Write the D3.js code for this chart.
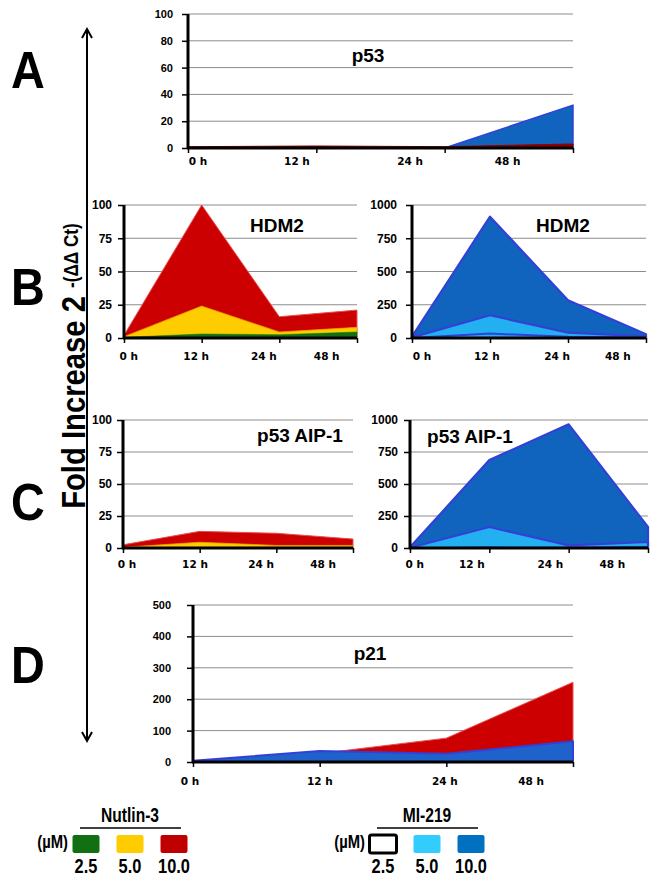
<!DOCTYPE html>
<html>
<head>
<meta charset="utf-8">
<script src="https://cdn.jsdelivr.net/npm/d3@7"></script>
<style>
  html, body { margin: 0; padding: 0; background: #fff; }
  svg { display: block; }
</style>
</head>
<body>
<svg id="chart" width="664" height="889"></svg>
<script>
// ---------------- DATA ----------------
const categories = ["0 h", "12 h", "24 h", "48 h"];

const ticksA = [0, 20, 40, 60, 80, 100];
const ticks100 = [0, 25, 50, 75, 100];
const ticks1000 = [0, 250, 500, 750, 1000];
const ticksD = [0, 100, 200, 300, 400, 500];

// A: p53
const p53Nutlin10 = [1, 1.5, 1, 3];
const p53MI10 = [0, 0, 0, 32];

// B: HDM2
const hdm2Nutlin25 = [0.5, 3, 2.5, 4.5];
const hdm2Nutlin50 = [1, 24, 4.5, 8];
const hdm2Nutlin100 = [2, 100, 16, 21];
const hdm2MI25 = [0, 33, 10, 5];
const hdm2MI50 = [5, 171, 40, 12];
const hdm2MI100 = [10, 912, 284, 28];

// C: p53 AIP-1
const aipNutlin25 = [0.2, 0.5, 0.5, 0.5];
const aipNutlin50 = [0.5, 4.5, 2, 2];
const aipNutlin100 = [2.5, 13, 11.5, 7];
const aipMI25 = [0, 5, 3, 10];
const aipMI50 = [2, 164, 21, 47];
const aipMI100 = [5, 687, 966, 164];

// D: p21
const p21Nutlin100 = [2, 27, 76, 254];
const p21MI100 = [4, 35, 26, 66];

const legendConc = ["2.5", "5.0", "10.0"];

// ---------------- STYLES ----------------
const C = {
  green: "#127012", yellow: "#ffcc00", red: "#cc0000", redEdge: "#e85050",
  lblue: "#22b0f0", dblue: "#1064be", blueEdge: "#3340d8",
  pblue: "#1f62cc"
};

const svg = d3.select("#chart");

const panels = [
  { left: 188, right: 573, top: 14, bottom: 148, max: 100, ticks: ticksA, tickGap: 15, tickFont: 11,
    title: "p53", tx: 368, ty: 62, labelY: 165, labelFrac: [0.026, 0.283, 0.577, 0.83],
    series: [
      { v: p53MI10, fill: C.dblue, stroke: C.blueEdge, sw: 1.5 },
      { v: p53Nutlin10, fill: "#8b0000", stroke: "#8b0000", sw: 1 }
    ] },
  { left: 124, right: 357, top: 205, bottom: 338, max: 100, ticks: ticks100, tickGap: 12, tickFont: 12,
    title: "HDM2", tx: 277, ty: 232, labelY: 360, labelFrac: [0.02, 0.31, 0.6, 0.87],
    series: [
      { v: hdm2Nutlin100, fill: C.red, stroke: C.redEdge, sw: 1 },
      { v: hdm2Nutlin50, fill: C.yellow, stroke: "#e8a000", sw: 0.8 },
      { v: hdm2Nutlin25, fill: C.green, stroke: C.green, sw: 0.5 }
    ] },
  { left: 412, right: 646, top: 205, bottom: 338, max: 1000, ticks: ticks1000, tickGap: 15, tickFont: 12,
    title: "HDM2", tx: 563, ty: 232, labelY: 360, labelFrac: [0.043, 0.32, 0.62, 0.88],
    series: [
      { v: hdm2MI100, fill: C.dblue, stroke: C.blueEdge, sw: 2.2 },
      { v: hdm2MI50, fill: C.lblue, stroke: C.blueEdge, sw: 2.2 },
      { v: hdm2MI25, fill: "none", stroke: C.blueEdge, sw: 2 }
    ] },
  { left: 123, right: 353, top: 420, bottom: 548, max: 100, ticks: ticks100, tickGap: 11, tickFont: 12,
    title: "p53 AIP-1", tx: 300, ty: 442, labelY: 568, labelFrac: [0.017, 0.313, 0.6, 0.87],
    series: [
      { v: aipNutlin100, fill: C.red, stroke: C.redEdge, sw: 1 },
      { v: aipNutlin50, fill: C.yellow, stroke: "#e8a000", sw: 0.8 },
      { v: aipNutlin25, fill: C.green, stroke: C.green, sw: 0.5 }
    ] },
  { left: 410, right: 648, top: 420, bottom: 548, max: 1000, ticks: ticks1000, tickGap: 12, tickFont: 12,
    title: "p53 AIP-1", tx: 470, ty: 443, labelY: 568, labelFrac: [0.02, 0.26, 0.59, 0.85],
    series: [
      { v: aipMI100, fill: C.dblue, stroke: C.blueEdge, sw: 2.2 },
      { v: aipMI50, fill: C.lblue, stroke: C.blueEdge, sw: 2.2 },
      { v: aipMI25, fill: "none", stroke: C.blueEdge, sw: 1.5 }
    ] },
  { left: 193, right: 573, top: 605, bottom: 762, max: 500, ticks: ticksD, tickGap: 22, tickFont: 11,
    title: "p21", tx: 370, ty: 660, labelY: 785, labelFrac: [-0.008, 0.334, 0.663, 0.89],
    series: [
      { v: p21Nutlin100, fill: C.red, stroke: C.redEdge, sw: 1 },
      { v: p21MI100, fill: C.pblue, stroke: C.blueEdge, sw: 2 }
    ] }
];

panels.forEach(p => {
  const g = svg.append("g");
  const x = d3.scalePoint().domain(categories).range([p.left, p.right]);
  const y = d3.scaleLinear().domain([0, p.max]).range([p.bottom, p.top]);
  const W = p.right - p.left;

  // gridlines
  g.selectAll("line.grid").data(p.ticks.filter(t => t > 0)).join("line")
    .attr("x1", p.left).attr("x2", p.right)
    .attr("y1", d => y(d)).attr("y2", d => y(d))
    .attr("stroke", "#8c8c8c").attr("stroke-width", 1);

  // areas
  const area = d3.area()
    .x((d, i) => x(categories[i]))
    .y0(p.bottom)
    .y1(d => y(d));
  p.series.forEach(s => {
    g.append("path").datum(s.v)
      .attr("d", area)
      .attr("fill", s.fill)
      .attr("stroke", s.stroke)
      .attr("stroke-width", s.sw)
      .attr("stroke-linejoin", "round");
  });

  // y axis
  const yAxis = d3.axisLeft(y).tickValues(p.ticks).tickFormat(d3.format("d"))
    .tickSize(6).tickPadding(p.tickGap - 6);
  const ya = g.append("g").attr("transform", `translate(${p.left},0)`).call(yAxis);
  ya.select(".domain").attr("stroke", "#000").attr("stroke-width", 3).attr("d", `M0,${p.top}V${p.bottom + 1}`);
  ya.selectAll(".tick line").attr("stroke", "#000").attr("stroke-width", 1.5);
  ya.selectAll(".tick text")
    .attr("font-family", "'Liberation Sans', Arial, sans-serif")
    .attr("font-weight", "bold").attr("font-size", p.tickFont).attr("fill", "#000");

  // x axis line + ticks
  const xa = d3.axisBottom(x).tickSize(5).tickFormat("");
  const xg = g.append("g").attr("transform", `translate(0,${p.bottom})`).call(xa);
  xg.select(".domain").attr("stroke", "#000").attr("stroke-width", 3).attr("d", `M${p.left - 1},0H${p.right}`);
  xg.selectAll(".tick line").attr("stroke", "#000").attr("stroke-width", 1.5);

  // x labels
  g.selectAll("text.xl").data(categories).join("text")
    .attr("x", (d, i) => p.left + p.labelFrac[i] * W)
    .attr("y", p.labelY)
    .attr("text-anchor", "middle")
    .attr("font-family", "'DejaVu Sans', Verdana, sans-serif")
    .attr("font-weight", "bold").attr("font-size", 10.5)
    .text(d => d);

  // title
  g.append("text").attr("x", p.tx).attr("y", p.ty)
    .attr("text-anchor", "middle")
    .attr("font-family", "'Liberation Sans', Arial, sans-serif")
    .attr("font-weight", "bold").attr("font-size", 19)
    .text(p.title);
});

// panel letters
const letters = [["A", 88], ["B", 305], ["C", 520], ["D", 683]];
svg.selectAll("text.letter").data(letters).join("text")
  .attr("transform", d => `translate(28,${d[1]}) scale(0.9,1)`)
  .attr("text-anchor", "middle")
  .attr("font-family", "'Liberation Sans', Arial, sans-serif")
  .attr("font-weight", "bold").attr("font-size", 52)
  .text(d => d[0]);

// vertical double arrow
const ax = 87, aTop = 29, aBot = 741;
svg.append("line").attr("x1", ax).attr("x2", ax).attr("y1", aTop).attr("y2", aBot)
  .attr("stroke", "#000").attr("stroke-width", 2);
svg.append("path").attr("d", `M${ax - 5},${aTop + 9}L${ax},${aTop}L${ax + 5},${aTop + 9}`)
  .attr("fill", "none").attr("stroke", "#000").attr("stroke-width", 2);
svg.append("path").attr("d", `M${ax - 5},${aBot - 9}L${ax},${aBot}L${ax + 5},${aBot - 9}`)
  .attr("fill", "none").attr("stroke", "#000").attr("stroke-width", 2);

// y label (condensed by horizontal scaling in text direction)
const yl = svg.append("text")
  .attr("transform", "translate(85,366) rotate(-90) scale(0.86,1)")
  .attr("text-anchor", "middle")
  .attr("font-family", "'Liberation Sans', Arial, sans-serif")
  .attr("font-weight", "bold");
yl.append("tspan").attr("font-size", 34).text("Fold Increase 2 ");
yl.append("tspan").attr("font-size", 20).attr("dy", -7).text("-(ΔΔ Ct)");

// legends
function ctext(g, x, y, anchor, size, txt) {
  g.append("text")
    .attr("transform", `translate(${x},${y}) scale(0.78,1)`)
    .attr("text-anchor", anchor)
    .attr("font-family", "'Liberation Sans', Arial, sans-serif")
    .attr("font-weight", "bold").attr("font-size", size).text(txt);
}
function legend(cx, title, colors, outlineFirst) {
  const g = svg.append("g");
  ctext(g, cx, 822, "middle", 20, title);
  g.append("line").attr("x1", cx - 50).attr("x2", cx + 51).attr("y1", 828).attr("y2", 828)
    .attr("stroke", "#000").attr("stroke-width", 1.5);
  ctext(g, cx - 62, 848, "end", 19, "(µM)");
  const sx = d3.scalePoint().domain(legendConc).range([cx - 44, cx + 44]);
  g.selectAll("rect").data(legendConc).join("rect")
    .attr("x", d => sx(d) - 13.5).attr("y", 835).attr("width", 27).attr("height", 18).attr("rx", 2)
    .attr("fill", (d, i) => colors[i])
    .attr("stroke", (d, i) => (outlineFirst && i === 0) ? "#000" : "none")
    .attr("stroke-width", 3);
  legendConc.forEach(d => ctext(g, sx(d), 873, "middle", 21, d));
}
legend(130, "Nutlin-3", [C.green, C.yellow, "#c00000"], false);
legend(427, "MI-219", ["#fff", "#33ccff", "#0070c0"], true);
</script>
</body>
</html>
